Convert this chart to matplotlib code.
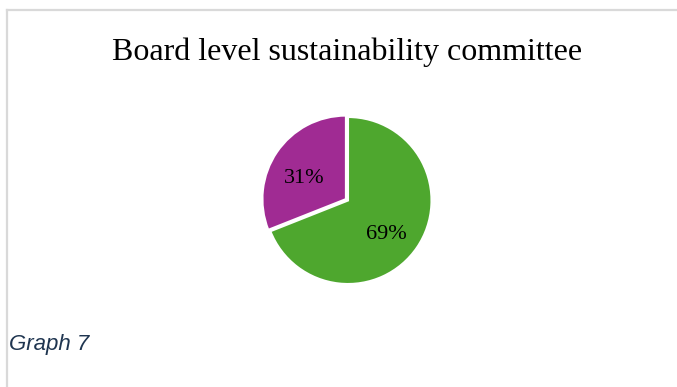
import matplotlib.pyplot as plt
from matplotlib.lines import Line2D

# data
labels = ['No', 'Yes']
shares = [31, 69]
colors = ['#A02B93', '#4EA72E']
title = 'Board level sustainability committee'
caption = 'Graph 7'

W, H = 677, 387
fig = plt.figure(figsize=(W / 100, H / 100), dpi=100)

# light frame (left and top edges visible)
fig.add_artist(Line2D([6.5 / W, 6.5 / W], [0, 1 - 9.5 / H], color='#D9D9D9', lw=1.6))
fig.add_artist(Line2D([6.5 / W, 1], [1 - 9.5 / H, 1 - 9.5 / H], color='#D9D9D9', lw=1.6))

fig.text(347.5 / W, 1 - 60 / H, title, ha='center', va='baseline',
         family='Liberation Serif', fontsize=23, color='black')

# pie: centre (348, 200.5), radius 83.5 px
cx, cy, r = 348, 200.5, 83.5
ax = fig.add_axes([(cx - r) / W, 1 - (cy + r) / H, 2 * r / W, 2 * r / H])
wedges, texts, autotexts = ax.pie(
    [shares[1], shares[0]], colors=[colors[1], colors[0]],
    startangle=90, counterclock=False, explode=[0, 0.03],
    autopct='%d%%', pctdistance=0.58,
    wedgeprops=dict(edgecolor='white', linewidth=1.5),
    textprops=dict(family='Liberation Serif', fontsize=16, color='black'))
# labels sit a little below the wedge mid-line, as in the source
for t in autotexts:
    x, y = t.get_position()
    t.set_position((x - 0.015, y - 0.085))
ax.set_xlim(-1, 1)
ax.set_ylim(-1, 1)
ax.set_aspect('equal')
ax.axis('off')

fig.text(9 / W, 1 - 350 / H, caption, ha='left', va='baseline',
         family='Liberation Sans', style='italic', fontsize=16, color='#1F3550')

fig.savefig('out.png', dpi=100)
